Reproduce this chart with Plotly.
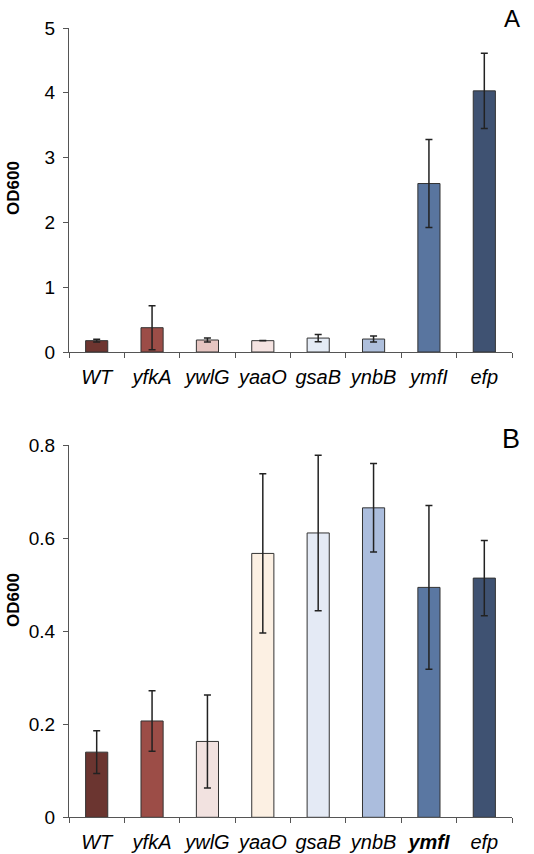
import plotly.graph_objects as go

categories = ["WT", "yfkA", "ywlG", "yaaO", "gsaB", "ynbB", "ymfI", "efp"]

a_values = [0.175, 0.375, 0.185, 0.175, 0.215, 0.20, 2.60, 4.03]
a_errors = [0.02, 0.34, 0.03, 0.003, 0.055, 0.045, 0.68, 0.58]
a_colors = ["#6e3530", "#9c4d47", "#e6c5c1", "#f5e3e1", "#e4ebf5", "#aebfdc", "#59759f", "#3f5272"]

b_values = [0.140, 0.207, 0.163, 0.567, 0.611, 0.665, 0.494, 0.514]
b_errors = [0.046, 0.065, 0.100, 0.171, 0.167, 0.095, 0.176, 0.081]
b_colors = ["#6b3530", "#9c4d47", "#f2e2e0", "#fcf0e3", "#e4eaf5", "#abbddd", "#5a77a2", "#3f5272"]

a_ticks = [0, 1, 2, 3, 4, 5]
b_ticks = [0, 0.2, 0.4, 0.6, 0.8]
b_ticklabels = ["0", "0.2", "0.4", "0.6", "0.8"]

a_ticktext = ["<i>%s</i>" % c for c in categories]
b_ticktext = ["<i><b>%s</b></i>" % c if c == "ymfI" else "<i>%s</i>" % c for c in categories]

FONT = "Liberation Sans, Arial, sans-serif"
AX = "#555555"

fig = go.Figure()

err_style = dict(type="data", thickness=1.5, width=3.5, color="#222222")

fig.add_trace(go.Bar(
    x=categories, y=a_values, width=0.4,
    marker=dict(color=a_colors, line=dict(color="#333333", width=1)),
    error_y=dict(array=a_errors, **err_style),
    xaxis="x", yaxis="y", showlegend=False,
))
fig.add_trace(go.Bar(
    x=categories, y=b_values, width=0.4,
    marker=dict(color=b_colors, line=dict(color="#333333", width=1)),
    error_y=dict(array=b_errors, **err_style),
    xaxis="x2", yaxis="y2", showlegend=False,
))

xdom = [69 / 534, 512 / 534]
common_x = dict(
    domain=xdom, type="category", showline=True, linecolor=AX, linewidth=1.2,
    ticks="outside", tickson="boundaries", ticklen=5, tickcolor=AX, tickwidth=1.2,
    tickfont=dict(family=FONT, size=20, color="black"), showgrid=False, zeroline=False,
    tickvals=categories, tickangle=0, automargin=False, ticklabelstandoff=7,
)
common_y = dict(
    showline=True, linecolor=AX, linewidth=1.2, ticks="outside", ticklen=5,
    tickcolor=AX, tickwidth=1.2, showgrid=False, zeroline=False, automargin=False,
    tickfont=dict(family=FONT, size=19, color="black"), ticklabelstandoff=4,
)

ylab_font = dict(family=FONT, size=17, color="black")

fig.update_layout(
    width=534, height=854,
    margin=dict(l=0, r=0, t=0, b=0),
    paper_bgcolor="white", plot_bgcolor="white",
    xaxis=dict(anchor="y", ticktext=a_ticktext, **common_x),
    xaxis2=dict(anchor="y2", ticktext=b_ticktext, **common_x),
    yaxis=dict(domain=[1 - 352 / 854, 1 - 28 / 854], range=[0, 5], tickvals=a_ticks,
               anchor="x", **common_y),
    yaxis2=dict(domain=[1 - 817.3 / 854, 1 - 445 / 854], range=[0, 0.8], tickvals=b_ticks,
                ticktext=b_ticklabels, anchor="x2", **common_y),
    annotations=[
        dict(text="A", x=522 / 534, y=1 - 3 / 854, xref="paper", yref="paper",
             xanchor="right", yanchor="top", showarrow=False,
             font=dict(family=FONT, size=24, color="black")),
        dict(text="B", x=522 / 534, y=1 - 422 / 854, xref="paper", yref="paper",
             xanchor="right", yanchor="top", showarrow=False,
             font=dict(family=FONT, size=27, color="black")),
        dict(text="<b>OD600</b>", x=13 / 534, y=1 - 188 / 854, xref="paper", yref="paper",
             xanchor="center", yanchor="middle", textangle=-90, showarrow=False,
             font=ylab_font),
        dict(text="<b>OD600</b>", x=13 / 534, y=1 - 600 / 854, xref="paper", yref="paper",
             xanchor="center", yanchor="middle", textangle=-90, showarrow=False,
             font=ylab_font),
    ],
)

fig.write_html("out.html", config={"displayModeBar": False},
               post_script="document.body.style.margin='0';")
